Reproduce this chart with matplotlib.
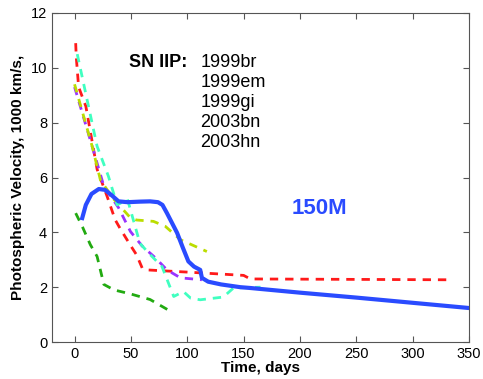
import matplotlib
matplotlib.use("Agg")
import matplotlib.pyplot as plt

plt.rcParams['font.family'] = ['Liberation Sans', 'DejaVu Sans']

# 150M model (solid blue)
model_t = [6.8, 10, 15, 21.5, 27, 33, 39, 47, 58, 67, 74, 78, 82, 91, 96, 101, 106, 111.5, 113, 118.6, 130, 147, 156, 200, 250, 300, 350]
model_v = [4.52, 5.0, 5.4, 5.58, 5.55, 5.35, 5.13, 5.1, 5.12, 5.13, 5.1, 5.0, 4.7, 3.98, 3.45, 2.94, 2.75, 2.63, 2.34, 2.2, 2.1, 2.0, 1.97, 1.8, 1.62, 1.43, 1.24]

# observed SN IIP (dashed)
red_t = [1, 1.5, 3.6, 10, 20, 29, 36, 41, 50, 55, 60, 64, 100, 150, 156, 330]
red_v = [10.9, 10.4, 9.3, 8.6, 6.3, 5.3, 4.46, 4.1, 3.5, 3.18, 2.7, 2.63, 2.55, 2.43, 2.3, 2.27]

purple_t = [0, 15.6, 26, 39, 49.6, 60, 71.7, 82, 94, 113]
purple_v = [9.3, 7.14, 5.68, 4.9, 4.03, 3.5, 3.07, 2.63, 2.34, 2.27]

yellow_t = [0, 15.6, 23, 35, 49.6, 55, 70, 80.5, 94, 117.4]
yellow_v = [9.4, 7.14, 5.9, 5.2, 4.53, 4.45, 4.4, 4.22, 3.73, 3.3]

cyan_t = [2.4, 20, 30, 37.8, 47, 58, 65.6, 77.6, 88, 96.6, 103, 111.5, 132, 141, 165]
cyan_v = [10.5, 7.14, 6.05, 5.0, 5.2, 3.6, 3.25, 2.75, 1.66, 1.84, 1.6, 1.54, 1.64, 1.97, 2.0]

green_t = [1, 7, 14, 20, 26, 35, 50, 67, 86]
green_v = [4.7, 4.2, 3.55, 3.12, 2.1, 1.9, 1.75, 1.55, 1.1]

sn_names = ["1999br", "1999em", "1999gi", "2003bn", "2003hn"]

fig = plt.figure(figsize=(4.83, 3.79), dpi=100)
ax = fig.add_axes([0.1077, 0.0976, 0.971 - 0.1077, 0.9657 - 0.0976])

ax.plot(red_t, red_v, "--", color="#ff1a1a", lw=2, dashes=(3, 2.5))
ax.plot(purple_t, purple_v, "--", color="#9933ff", lw=2, dashes=(3, 2.5))
ax.plot(yellow_t, yellow_v, "--", color="#bbdd00", lw=2, dashes=(3, 2.5))
ax.plot(cyan_t, cyan_v, "--", color="#40ffc0", lw=2, dashes=(3, 2.5))
ax.plot(green_t, green_v, "--", color="#22aa11", lw=2, dashes=(3, 2.5))
ax.plot(model_t, model_v, "-", color="#2a4bff", lw=3)

ax.text(48.7, 10.2, "SN IIP:", fontsize=13, fontweight="bold", va="center")
for i, name in enumerate(sn_names):
    ax.text(111.5, 10.2 - 0.73 * i, name, fontsize=13, va="center")
ax.text(217, 4.86, "150M", fontsize=16, fontweight="bold", color="#2a4bff", ha="center", va="center")

ax.set_xlim(-20, 350)
ax.set_ylim(0, 12)
ax.set_xticks(range(0, 351, 50))
ax.set_yticks(range(0, 13, 2))
ax.tick_params(direction="in", top=True, right=True, labelsize=10.5, length=4, color="#555555")
for s in ax.spines.values():
    s.set_color("#555555")
ax.set_xlabel("Time, days", fontsize=11, fontweight="bold", labelpad=0)
ax.set_ylabel("Photospheric Velocity, 1000 km/s,", fontsize=11, fontweight="bold", labelpad=4)

fig.savefig("out.png", dpi=100)
